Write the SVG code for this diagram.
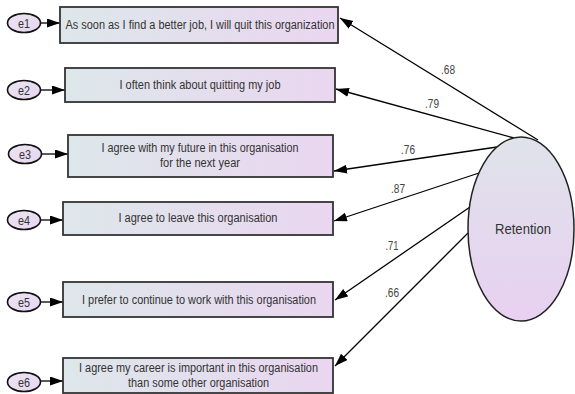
<svg xmlns="http://www.w3.org/2000/svg" width="575" height="394" viewBox="0 0 575 394">
  <defs>
    <linearGradient id="boxFill" x1="0" y1="0" x2="1" y2="0">
      <stop offset="0" stop-color="#dde7ea"/>
      <stop offset="1" stop-color="#ead6f0"/>
    </linearGradient>
    <linearGradient id="latentFill" x1="0" y1="0" x2="0" y2="1">
      <stop offset="0" stop-color="#dfe3ea"/>
      <stop offset="1" stop-color="#e8d0f1"/>
    </linearGradient>
    <linearGradient id="errFill" x1="0" y1="0" x2="1" y2="1">
      <stop offset="0" stop-color="#ece4f2"/>
      <stop offset="1" stop-color="#e6d6ef"/>
    </linearGradient>
    <marker id="head" markerUnits="userSpaceOnUse" markerWidth="14" markerHeight="10" refX="13" refY="4.5" orient="auto">
      <path d="M0,0 L13,4.5 L0,9 Z" fill="#000"/>
    </marker>
  </defs>
  <style>
    .box { fill: url(#boxFill); stroke: #333; stroke-width: 1.8; }
    .err { fill: url(#errFill); stroke: #111; stroke-width: 1.6; }
    .latent { fill: url(#latentFill); stroke: #222; stroke-width: 1.5; }
    .txt { font-family: "Liberation Sans", Arial, sans-serif; font-size: 12px; fill: #333; text-anchor: middle; }
    .etxt { font-family: "Liberation Sans", Arial, sans-serif; font-size: 13px; fill: #333; text-anchor: middle; }
    .lbl { font-family: "Liberation Sans", Arial, sans-serif; font-size: 12px; fill: #444; text-anchor: middle; }
    .edge { stroke: #000; stroke-width: 1.3; fill: none; marker-end: url(#head); }
  </style>

  <!-- connectors -->
  <g id="connectors">
    <line class="edge" x1="41" y1="23" x2="60" y2="23"/>
    <line class="edge" x1="41" y1="90" x2="65" y2="90"/>
    <line class="edge" x1="42" y1="154" x2="68" y2="154"/>
    <line class="edge" x1="41" y1="220" x2="63" y2="220"/>
    <line class="edge" x1="41" y1="302" x2="63" y2="302"/>
    <line class="edge" x1="41" y1="381" x2="63" y2="381"/>

    <line class="edge" x1="538" y1="140" x2="340" y2="18"/>
    <line class="edge" x1="514" y1="138" x2="336" y2="89"/>
    <line class="edge" x1="497" y1="147" x2="334" y2="171"/>
    <line class="edge" x1="479" y1="173" x2="334" y2="221"/>
    <line class="edge" x1="470" y1="207" x2="335" y2="300"/>
    <line class="edge" x1="468" y1="233" x2="335" y2="366"/>

    <text class="lbl" x="448" y="74" textLength="14" lengthAdjust="spacingAndGlyphs">.68</text>
    <text class="lbl" x="432" y="108" textLength="14" lengthAdjust="spacingAndGlyphs">.79</text>
    <text class="lbl" x="408" y="154" textLength="14" lengthAdjust="spacingAndGlyphs">.76</text>
    <text class="lbl" x="398" y="193" textLength="14" lengthAdjust="spacingAndGlyphs">.87</text>
    <text class="lbl" x="392" y="250" textLength="13" lengthAdjust="spacingAndGlyphs">.71</text>
    <text class="lbl" x="392" y="297" textLength="14" lengthAdjust="spacingAndGlyphs">.66</text>
  </g>

  <!-- error terms -->
  <g id="e1"><ellipse class="err" cx="24" cy="23" rx="16.5" ry="9.5"/><text class="etxt" x="24" y="27.5" textLength="12" lengthAdjust="spacingAndGlyphs">e1</text></g>
  <g id="e2"><ellipse class="err" cx="24" cy="90" rx="16.5" ry="9.5"/><text class="etxt" x="24" y="94.5" textLength="12" lengthAdjust="spacingAndGlyphs">e2</text></g>
  <g id="e3"><ellipse class="err" cx="25" cy="154" rx="16.5" ry="9.5"/><text class="etxt" x="25" y="158.5" textLength="12" lengthAdjust="spacingAndGlyphs">e3</text></g>
  <g id="e4"><ellipse class="err" cx="24" cy="220" rx="16.5" ry="9.5"/><text class="etxt" x="24" y="224.5" textLength="12" lengthAdjust="spacingAndGlyphs">e4</text></g>
  <g id="e5"><ellipse class="err" cx="24" cy="302" rx="16.5" ry="9.5"/><text class="etxt" x="24" y="306.5" textLength="12" lengthAdjust="spacingAndGlyphs">e5</text></g>
  <g id="e6"><ellipse class="err" cx="24" cy="382" rx="16.5" ry="9.5"/><text class="etxt" x="24" y="386.5" textLength="12" lengthAdjust="spacingAndGlyphs">e6</text></g>

  <!-- observed items -->
  <g id="item1">
    <rect class="box" x="60" y="7" width="278" height="36"/>
    <text class="txt" x="200" y="29" textLength="269" lengthAdjust="spacingAndGlyphs">As soon as I find a better job, I will quit this organization</text>
  </g>
  <g id="item2">
    <rect class="box" x="65" y="68" width="270" height="34"/>
    <text class="txt" x="200" y="89" textLength="161" lengthAdjust="spacingAndGlyphs">I often think about quitting my job</text>
  </g>
  <g id="item3">
    <rect class="box" x="68" y="135" width="265" height="42"/>
    <text class="txt" x="200" y="152" textLength="197" lengthAdjust="spacingAndGlyphs">I agree with my future in this organisation</text>
    <text class="txt" x="200" y="167" textLength="80" lengthAdjust="spacingAndGlyphs">for the next year</text>
  </g>
  <g id="item4">
    <rect class="box" x="63" y="202" width="270" height="33"/>
    <text class="txt" x="198" y="222" textLength="159" lengthAdjust="spacingAndGlyphs">I agree to leave this organisation</text>
  </g>
  <g id="item5">
    <rect class="box" x="63" y="282" width="270" height="35"/>
    <text class="txt" x="199" y="304" textLength="234" lengthAdjust="spacingAndGlyphs">I prefer to continue to work with this organisation</text>
  </g>
  <g id="item6">
    <rect class="box" x="63" y="358" width="270" height="35"/>
    <text class="txt" x="198.5" y="372" textLength="239" lengthAdjust="spacingAndGlyphs">I agree my career is important in this organisation</text>
    <text class="txt" x="198.5" y="387" textLength="141" lengthAdjust="spacingAndGlyphs">than some other organisation</text>
  </g>

  <!-- latent factor -->
  <g id="retention">
    <ellipse class="latent" cx="521" cy="229" rx="53" ry="92"/>
    <text class="txt" x="523" y="234" style="font-size:14px" textLength="56" lengthAdjust="spacingAndGlyphs">Retention</text>
  </g>
</svg>
